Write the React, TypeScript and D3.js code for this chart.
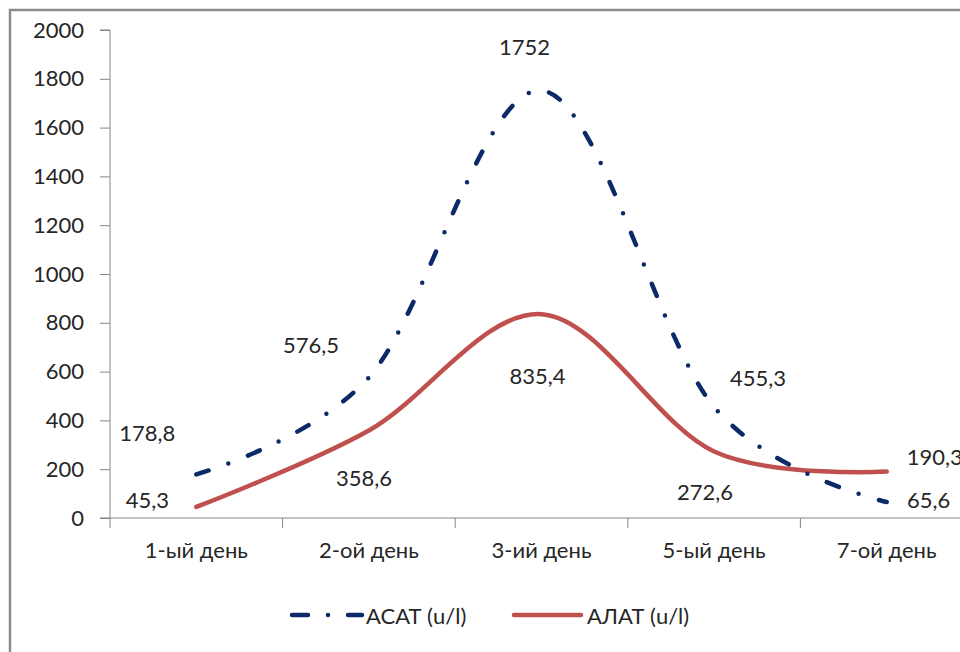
import React, { useEffect, useRef } from 'react';
import * as d3 from 'd3';

const categories = ['1-ый день', '2-ой день', '3-ий день', '5-ый день', '7-ой день'];
const asatValues = [178.8, 576.5, 1752, 455.3, 65.6];
const alatValues = [45.3, 358.6, 835.4, 272.6, 190.3];
const asatLabels = ['178,8', '576,5', '1752', '455,3', '65,6'];
const alatLabels = ['45,3', '358,6', '835,4', '272,6', '190,3'];
const yTicks = [0, 200, 400, 600, 800, 1000, 1200, 1400, 1600, 1800, 2000];
const seriesNames = ['АСАТ (u/l)', 'АЛАТ (u/l)'];

// label offsets from the point (px), like Excel placed them
const asatOffsets: [number, number][] = [[-49, -42], [-58, -33], [-17, -44], [44, -29], [42, -2]];
const alatOffsets: [number, number][] = [[-49, -7], [-5, 47], [-4, 61], [-9, 40], [48, -15]];

const App: React.FC = () => {
    const ref = useRef<SVGSVGElement>(null);

    useEffect(() => {
        if (!ref.current) return;
        const svg = d3.select(ref.current);
        svg.selectAll('*').remove();

        const width = 960;
        const height = 652;
        const font = 'Lato, "Noto Sans", sans-serif';
        const fontSize = 22;
        const textColor = '#262626';
        const axisColor = '#868686';

        svg.attr('width', width).attr('height', height);

        // outer chart border
        svg.append('rect')
            .attr('x', 10).attr('y', 10)
            .attr('width', 1000).attr('height', 700)
            .attr('fill', 'white')
            .attr('stroke', '#8c8c8c')
            .attr('stroke-width', 2.5);

        const x = d3.scaleBand()
            .domain(categories)
            .range([110, 973]);

        const y = d3.scaleLinear()
            .domain([0, 2000])
            .range([518, 30]);

        // Y axis
        const yAxis = svg.append('g')
            .attr('transform', 'translate(110,0)')
            .call(d3.axisLeft(y).tickValues(yTicks).tickSize(10).tickPadding(16).tickFormat(d => String(d)));
        yAxis.select('.domain').attr('stroke', axisColor).attr('d', `M-10,${y(2000)}H0V${y(0)}`);
        yAxis.selectAll('.tick line').attr('stroke', axisColor);
        yAxis.selectAll('.tick text')
            .attr('font-family', font).attr('font-size', fontSize).attr('fill', textColor);

        // X axis
        const xAxis = svg.append('g')
            .attr('transform', `translate(0,${y(0)})`)
            .call(d3.axisBottom(x).tickSize(0).tickPadding(24));
        xAxis.select('.domain').attr('stroke', axisColor).attr('d', 'M100,0H973');
        xAxis.selectAll('.tick text')
            .attr('font-family', font).attr('font-size', fontSize).attr('fill', textColor);
        // category boundary ticks
        const bounds = categories.map(c => x(c) as number).concat([x.range()[1]]);
        svg.append('g').selectAll('line')
            .data(bounds)
            .enter().append('line')
            .attr('x1', d => d).attr('x2', d => d)
            .attr('y1', y(0)).attr('y2', y(0) + 10)
            .attr('stroke', axisColor);

        const cx = (i: number) => (x(categories[i]) as number) + x.bandwidth() / 2;

        const line = d3.line<number>()
            .x((_, i) => cx(i))
            .y(d => y(d))
            .curve(d3.curveCardinal.tension(0));

        // АЛАТ
        svg.append('path')
            .datum(alatValues)
            .attr('d', line)
            .attr('fill', 'none')
            .attr('stroke', '#c0504d')
            .attr('stroke-width', 4.5)
            .attr('stroke-linecap', 'round');

        // АСАТ
        svg.append('path')
            .datum(asatValues)
            .attr('d', line)
            .attr('fill', 'none')
            .attr('stroke', '#0c2a68')
            .attr('stroke-width', 4.5)
            .attr('stroke-dasharray', '13,21,0,21')
            .attr('stroke-linecap', 'round');

        const addLabels = (vals: number[], labels: string[], offs: [number, number][]) => {
            svg.append('g').selectAll('text')
                .data(vals)
                .enter().append('text')
                .attr('x', (_, i) => cx(i) + offs[i][0])
                .attr('y', (d, i) => y(d) + offs[i][1])
                .attr('text-anchor', 'middle')
                .attr('dominant-baseline', 'central')
                .attr('font-family', font)
                .attr('font-size', fontSize)
                .attr('fill', textColor)
                .text((_, i) => labels[i]);
        };
        addLabels(asatValues, asatLabels, asatOffsets);
        addLabels(alatValues, alatLabels, alatOffsets);

        // legend
        const legend = svg.append('g').attr('transform', 'translate(0,615)');
        legend.append('line')
            .attr('x1', 292).attr('x2', 362).attr('y1', 0).attr('y2', 0)
            .attr('stroke', '#0c2a68').attr('stroke-width', 4.5)
            .attr('stroke-linecap', 'round')
            .attr('stroke-dasharray', '16,20,0,20');
        legend.append('text')
            .attr('x', 366).attr('y', 0)
            .attr('dominant-baseline', 'central')
            .attr('font-family', font).attr('font-size', fontSize).attr('fill', textColor)
            .text(seriesNames[0]);
        legend.append('line')
            .attr('x1', 514).attr('x2', 581).attr('y1', 0).attr('y2', 0)
            .attr('stroke', '#c0504d').attr('stroke-width', 4.5)
            .attr('stroke-linecap', 'round');
        legend.append('text')
            .attr('x', 587).attr('y', 0)
            .attr('dominant-baseline', 'central')
            .attr('font-family', font).attr('font-size', fontSize).attr('fill', textColor)
            .text(seriesNames[1]);
    }, []);

    return (
        <svg ref={ref} style={{ position: 'fixed', left: 0, top: 0, display: 'block' }}></svg>
    );
};

export default App;
